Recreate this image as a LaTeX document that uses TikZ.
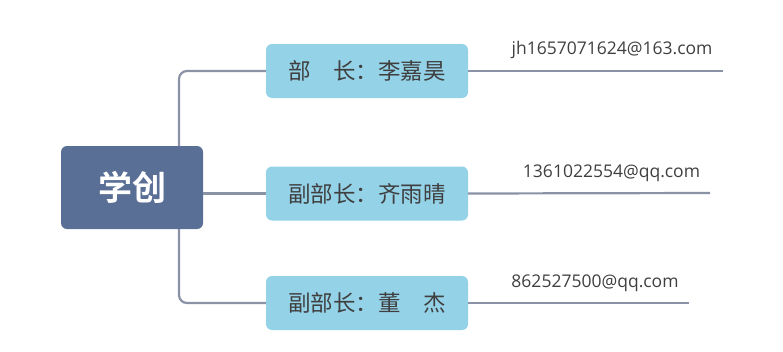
\documentclass[tikz,border=0pt]{standalone}
\usepackage{fontspec}
\setmainfont{Open Sans}
\newfontfamily\cjk{Noto Sans CJK SC}
\newfontfamily\cjkbold{Noto Sans CJK SC Bold}
\definecolor{rootc}{HTML}{5A6F96}
\definecolor{boxc}{HTML}{94D2E8}
\definecolor{linec}{HTML}{8A93A5}
\definecolor{txtc}{HTML}{3F3F3F}
\begin{document}
\begin{tikzpicture}[x=1pt,y=-1pt,
  rootbox/.style={fill=rootc,rounded corners=6pt,minimum width=142pt,minimum height=83pt,inner sep=0pt,text=white,font=\cjkbold\fontsize{34}{38}\selectfont},
  rolebox/.style={fill=boxc,rounded corners=6pt,minimum width=202pt,minimum height=54pt,inner sep=0pt,text=txtc,font=\cjk\fontsize{22.5}{26}\selectfont},
  mail/.style={text=txtc,font=\fontsize{17.5}{21}\selectfont,inner sep=0pt},
  conn/.style={draw=linec,line width=2.2pt}]
\useasboundingbox (0,0) rectangle (783,351);
\node[rootbox] (root) at (132,187.5) {学创};
\node[rolebox] (b1) at (367,71) {部　长：李嘉昊};
\node[rolebox] (b2) at (367,193.5) {副部长：齐雨晴};
\node[rolebox] (b3) at (367,303) {副部长：董　杰};
\coordinate (t1) at (179,146);
\coordinate (t3) at (179,229);
\draw[conn,rounded corners=8pt] (t1) |- (b1.west);
\draw[conn,rounded corners=8pt] (t3) |- (b3.west);
\draw[conn] (root.east |- b2.west) -- (b2.west);
\coordinate (e1) at (723,71);
\coordinate (e2) at (710,193);
\coordinate (e3) at (689,303);
\draw[conn] (b1.east) -- (e1);
\draw[conn] (b2.east) -- (e2);
\draw[conn] (b3.east) -- (e3);
\node[mail] (m1) at (612,50) {jh1657071624@163.com};
\node[mail] (m2) at (611.5,173) {1361022554@qq.com};
\node[mail] (m3) at (595,283) {862527500@qq.com};
\end{tikzpicture}
\end{document}
